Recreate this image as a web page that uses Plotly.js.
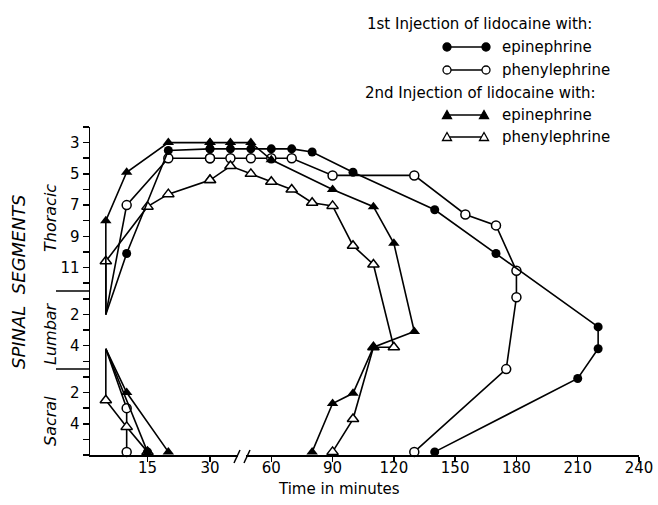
<!DOCTYPE html>
<html><head><meta charset="utf-8">
<script src="https://cdn.plot.ly/plotly-3.0.1.min.js"></script>
<style>html,body{margin:0;padding:0;background:#fff}</style>
</head><body><div id="chart" style="width:658px;height:505px"></div>
<script>
// Time in minutes; spinal segment index: T1..T12 = 1..12, L1..L5 = 13..17, S1..S5 = 18..22, bottom line = 23
const BREAK = 30;

// 1st injection of lidocaine with epinephrine (filled circles)
const epi1UpperTime = [5, 10, 20, 30, 40, 50, 60, 70, 80, 100, 140, 170, 220, 220, 210, 140];
const epi1UpperSeg  = [14, 10.1, 3.5, 3.4, 3.4, 3.4, 3.4, 3.4, 3.6, 4.9, 7.3, 10.1, 14.8, 16.2, 18.1, 22.8];
const epi1LowerTime = [5, 15];
const epi1LowerSeg  = [16.2, 22.8];

// 1st injection of lidocaine with phenylephrine (open circles)
const phe1UpperTime = [5, 10, 20, 30, 40, 50, 60, 70, 90, 130, 155, 170, 180, 180, 175, 130];
const phe1UpperSeg  = [14, 7, 4, 4, 4, 4, 4, 4, 5.1, 5.1, 7.6, 8.3, 11.2, 12.9, 17.5, 22.8];
const phe1LowerTime = [5, 10, 10];
const phe1LowerSeg  = [16.2, 20, 22.8];

// 2nd injection of lidocaine with epinephrine (filled triangles)
const epi2UpperTime = [5, 5, 10, 20, 30, 40, 50, 60, 90, 110, 120, 130, 110, 100, 90, 80];
const epi2UpperSeg  = [14, 8, 4.9, 3, 3, 3, 3, 4.1, 6, 7.1, 9.45, 15.1, 16.1, 19.05, 19.7, 22.8];
const epi2LowerTime = [5, 10, 20];
const epi2LowerSeg  = [16.2, 19, 22.8];

// 2nd injection of lidocaine with phenylephrine (open triangles)
const phe2UpperTime = [5, 5, 15, 20, 30, 40, 50, 60, 70, 80, 90, 100, 110, 120, 110, 100, 90];
const phe2UpperSeg  = [14, 10.6, 7.1, 6.3, 5.4, 4.5, 5, 5.5, 6, 6.85, 7.05, 9.6, 10.8, 16.1, 16.1, 20.7, 22.8];
const phe2LowerTime = [5, 5, 10, 15];
const phe2LowerSeg  = [16.2, 19.5, 21.2, 22.8];

const yTickVals = [3, 5, 7, 9, 11, 14, 16, 19, 21];
const yTickText = ['3', '5', '7', '9', '11', '2', '4', '2', '4'];
const xTickLeft  = [15, 30];
const xTickRight = [60, 90, 120, 150, 180, 210, 240];

const legendHeaders = ['1st Injection of lidocaine with:', '2nd Injection of lidocaine with:'];
const legendLabels  = ['epinephrine', 'phenylephrine', 'epinephrine', 'phenylephrine'];

// ---- styles ----
const FONT = 'DejaVu Sans, Arial, sans-serif';
const LW = 1.6;
const styles = {
  filledCircle:   {symbol: 'circle', size: 9, color: 'black', line: {color: 'black', width: 0}},
  openCircle:     {symbol: 'circle', size: 9, color: 'white', line: {color: 'black', width: 1.5}},
  filledTriangle: {symbol: 'triangle-up', size: 10, color: 'black', line: {color: 'black', width: 0}},
  openTriangle:   {symbol: 'triangle-up', size: 10, color: 'white', line: {color: 'black', width: 1.5}}
};

function pathTraces(t, s, st) {
  // split the path across the two x axes (0-30 on x, 30-240 on x2); the start vertex has no marker
  const L = {x: [], y: [], size: []}, R = {x: [], y: [], size: []};
  for (let i = 0; i < t.length; i++) {
    const sz = i === 0 ? 0 : st.size;
    if (t[i] <= BREAK) { L.x.push(t[i]); L.y.push(s[i]); L.size.push(sz); }
    if (t[i] >= BREAK) { R.x.push(t[i]); R.y.push(s[i]); R.size.push(sz); }
  }
  const out = [];
  [[L, 'x'], [R, 'x2']].forEach(([d, ax]) => {
    if (d.x.length) out.push({
      type: 'scatter', mode: 'lines+markers', x: d.x, y: d.y, xaxis: ax, yaxis: 'y',
      cliponaxis: false, hoverinfo: 'x+y', showlegend: false,
      line: {color: 'black', width: LW},
      marker: {symbol: st.symbol, size: d.size, opacity: 1, color: st.color, line: st.line}
    });
  });
  return out;
}

const traces = [].concat(
  pathTraces(phe1UpperTime, phe1UpperSeg, styles.openCircle),
  pathTraces(phe1LowerTime, phe1LowerSeg, styles.openCircle),
  pathTraces(phe2UpperTime, phe2UpperSeg, styles.openTriangle),
  pathTraces(phe2LowerTime, phe2LowerSeg, styles.openTriangle),
  pathTraces(epi1UpperTime, epi1UpperSeg, styles.filledCircle),
  pathTraces(epi1LowerTime, epi1LowerSeg, styles.filledCircle),
  pathTraces(epi2UpperTime, epi2UpperSeg, styles.filledTriangle),
  pathTraces(epi2LowerTime, epi2LowerSeg, styles.filledTriangle)
);

// ---- layout helpers (pixel -> paper) ----
const ML = 90, MR = 19, MT = 127, MB = 50, W = 658, H = 505;
const PW = W - ML - MR, PH = H - MT - MB;
const PX = px => (px - ML) / PW;
const PY = py => (H - MB - py) / PH;
const LEFT_FRAC = 120 / PW;

function ann(text, px, py, opt) {
  return Object.assign({text: text, x: PX(px), y: PY(py), xref: 'paper', yref: 'paper',
    showarrow: false, xanchor: 'left', yanchor: 'middle',
    font: {family: FONT, size: 15, color: 'black'}}, opt || {});
}

const shapes = [];
// segment separators on the y axis
[12.5, 17.5].forEach(v => shapes.push({type: 'line', xref: 'paper', yref: 'y', x0: PX(56), x1: 0, y0: v, y1: v,
  line: {color: 'black', width: 1.5}}));
// axis break
shapes.push({type: 'rect', xref: 'paper', yref: 'paper', x0: PX(238), x1: PX(246), y0: PY(459), y1: PY(451),
  fillcolor: 'white', line: {width: 0}, layer: 'above'});
shapes.push({type: 'line', xref: 'paper', yref: 'paper', x0: PX(234), x1: PX(240), y0: PY(463), y1: PY(450),
  line: {color: 'black', width: 1.5}, layer: 'above'});
shapes.push({type: 'line', xref: 'paper', yref: 'paper', x0: PX(244), x1: PX(250), y0: PY(463), y1: PY(450),
  line: {color: 'black', width: 1.5}, layer: 'above'});

// custom legend samples
const legendRows = [
  {py: 47, kind: 'circle', fill: 'black', x1: 486},
  {py: 70, kind: 'circle', fill: 'white', x1: 486},
  {py: 115, kind: 'tri', fill: 'black', x1: 484},
  {py: 137, kind: 'tri', fill: 'white', x1: 484}
];
legendRows.forEach(r => {
  shapes.push({type: 'line', xref: 'paper', yref: 'paper', x0: PX(447), x1: PX(r.x1), y0: PY(r.py), y1: PY(r.py),
    line: {color: 'black', width: 1.5}});
  [447, r.x1].forEach(cx => {
    const base = {xref: 'paper', yref: 'paper', xsizemode: 'pixel', ysizemode: 'pixel',
      xanchor: PX(cx), yanchor: PY(r.py), fillcolor: r.fill, line: {color: 'black', width: 1.3}};
    if (r.kind === 'circle') shapes.push(Object.assign({type: 'circle', x0: -4, x1: 4, y0: -4, y1: 4}, base));
    else shapes.push(Object.assign({type: 'path', path: 'M-4.5,-3.5 L4.5,-3.5 L0,4.5 Z'}, base));
  });
});

const annotations = [
  ann(legendHeaders[0], 365, 24),
  ann(legendLabels[0], 500, 47),
  ann(legendLabels[1], 500, 70),
  ann(legendHeaders[1], 363, 93),
  ann(legendLabels[2], 500, 115),
  ann(legendLabels[3], 500, 137),
  ann('Time in minutes', 338.5, 489, {xanchor: 'center'}),
  ann('<i>SPINAL  SEGMENTS</i>', 18, 282, {xanchor: 'center', textangle: -90, font: {family: FONT, size: 18, color: 'black'}}),
  ann('<i>Thoracic</i>', 50, 218, {xanchor: 'center', textangle: -90, font: {family: FONT, size: 16, color: 'black'}}),
  ann('<i>Lumbar</i>', 50, 333, {xanchor: 'center', textangle: -90, font: {family: FONT, size: 16, color: 'black'}}),
  ann('<i>Sacral</i>', 50, 421, {xanchor: 'center', textangle: -90, font: {family: FONT, size: 16, color: 'black'}})
];

const axisCommon = {showline: true, linecolor: 'black', linewidth: 1.5, ticks: 'outside', tickcolor: 'black',
  tickwidth: 1.5, showgrid: false, zeroline: false, fixedrange: true,
  tickfont: {family: FONT, size: 15, color: 'black'}};

const layout = {
  width: W, height: H,
  margin: {l: ML, r: MR, t: MT, b: MB, pad: 0},
  paper_bgcolor: 'white', plot_bgcolor: 'white', showlegend: false,
  font: {family: FONT, size: 15, color: 'black'},
  xaxis: Object.assign({}, axisCommon, {domain: [0, LEFT_FRAC], range: [1.2, BREAK], anchor: 'y',
    tickmode: 'array', tickvals: xTickLeft, ticktext: xTickLeft.map(String), ticklen: 5, ticklabelstandoff: -7}),
  xaxis2: Object.assign({}, axisCommon, {domain: [LEFT_FRAC, 1], range: [BREAK, 240], anchor: 'y',
    tickmode: 'array', tickvals: xTickRight, ticktext: xTickRight.map(String), ticklen: 5, ticklabelstandoff: -7}),
  yaxis: Object.assign({}, axisCommon, {domain: [0, 1], range: [23, 2], anchor: 'x',
    tickmode: 'array', tickvals: yTickVals, ticktext: yTickText, ticklen: 6,
    minor: {tickmode: 'linear', tick0: 0, dtick: 1, ticks: 'outside', ticklen: 6, tickcolor: 'black', tickwidth: 1.5, showgrid: false}}),
  shapes: shapes,
  annotations: annotations
};

Plotly.newPlot('chart', traces, layout, {displayModeBar: false, staticPlot: true});
</script>
</body></html>
